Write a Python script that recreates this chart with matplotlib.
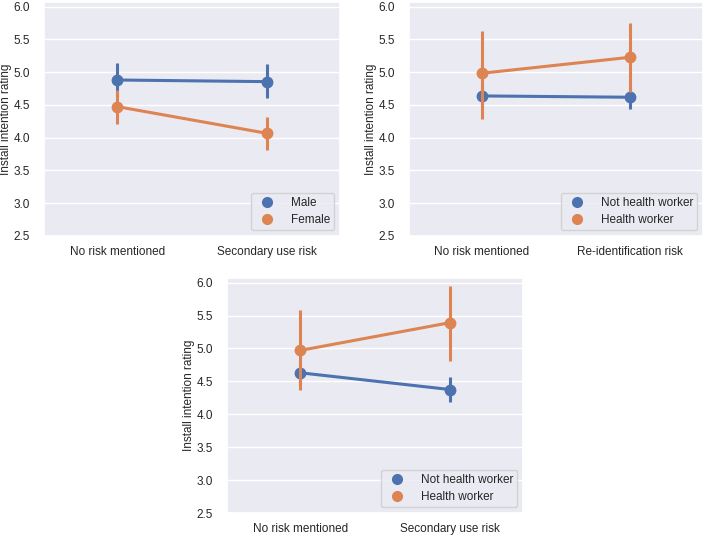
import numpy as np
import matplotlib
matplotlib.use('Agg')
import seaborn as sns
from matplotlib import pyplot as plt

# panel 1: gender
cats_1 = ['No risk mentioned', 'Secondary use risk']
male_mean = [4.88, 4.855]
male_lo = [4.63, 4.60]
male_hi = [5.135, 5.125]
female_mean = [4.474, 4.067]
female_lo = [4.205, 3.81]
female_hi = [4.72, 4.31]

# panel 2: health worker, re-identification
cats_2 = ['No risk mentioned', 'Re-identification risk']
nhw2_mean = [4.637, 4.617]
nhw2_lo = [4.45, 4.433]
nhw2_hi = [4.82, 4.80]
hw2_mean = [4.983, 5.227]
hw2_lo = [4.281, 4.70]
hw2_hi = [5.634, 5.746]

# panel 3: health worker, secondary use
cats_3 = ['No risk mentioned', 'Secondary use risk']
nhw3_mean = [4.63, 4.376]
nhw3_lo = [4.45, 4.189]
nhw3_hi = [4.81, 4.564]
hw3_mean = [4.97, 5.391]
hw3_lo = [4.376, 4.808]
hw3_hi = [5.584, 5.949]

BLUE = '#4C72B0'
ORANGE = '#DD8452'


def point_series(ax, mean, lo, hi, color, label):
    x = np.arange(len(mean))
    ax.vlines(x, lo, hi, color=color, lw=2.2, zorder=3)
    ax.plot(x, mean, color=color, lw=2.2, marker='o', ms=7.5, zorder=3, label=label)


def style_axes(ax, cats):
    ax.set_xlim(-0.49, 1.49)
    ax.set_ylim(2.5, 6.07)
    ax.set_yticks(np.arange(2.5, 6.01, 0.5))
    ax.set_yticklabels(['%.1f' % v for v in np.arange(2.5, 6.01, 0.5)])
    ax.set_xticks(range(len(cats)))
    ax.set_xticklabels(cats)
    ax.set_ylabel('Install intention rating', labelpad=1)
    ax.grid(False, axis='x')
    ax.tick_params(axis='y', length=0, pad=10)
    ax.tick_params(axis='x', length=0, pad=7)
    leg = ax.legend(loc='lower right', frameon=True, borderpad=0.35,
                    handletextpad=1.0, handlelength=2.0, labelspacing=0.45)
    for line in leg.get_lines():
        line.set_linestyle('')
        line.set_markersize(7)


sns.set_theme(style='darkgrid')
plt.rcParams['font.family'] = ['Liberation Sans', 'DejaVu Sans']
plt.rcParams['font.size'] = 8.5
plt.rcParams['axes.labelsize'] = 8.5
plt.rcParams['xtick.labelsize'] = 8.5
plt.rcParams['ytick.labelsize'] = 8.5
plt.rcParams['legend.fontsize'] = 8.5

fig = plt.figure(figsize=(7.06, 5.36), dpi=100)

ax1 = fig.add_axes([44 / 706, 1 - 236 / 536, 296 / 706, 234 / 536])
point_series(ax1, male_mean, male_lo, male_hi, BLUE, 'Male')
point_series(ax1, female_mean, female_lo, female_hi, ORANGE, 'Female')
style_axes(ax1, cats_1)

ax2 = fig.add_axes([409 / 706, 1 - 236 / 536, 294 / 706, 234 / 536])
point_series(ax2, nhw2_mean, nhw2_lo, nhw2_hi, BLUE, 'Not health worker')
point_series(ax2, hw2_mean, hw2_lo, hw2_hi, ORANGE, 'Health worker')
style_axes(ax2, cats_2)

ax3 = fig.add_axes([227 / 706, 1 - 513 / 536, 296 / 706, 235 / 536])
point_series(ax3, nhw3_mean, nhw3_lo, nhw3_hi, BLUE, 'Not health worker')
point_series(ax3, hw3_mean, hw3_lo, hw3_hi, ORANGE, 'Health worker')
style_axes(ax3, cats_3)

fig.savefig('out.png', dpi=100)
